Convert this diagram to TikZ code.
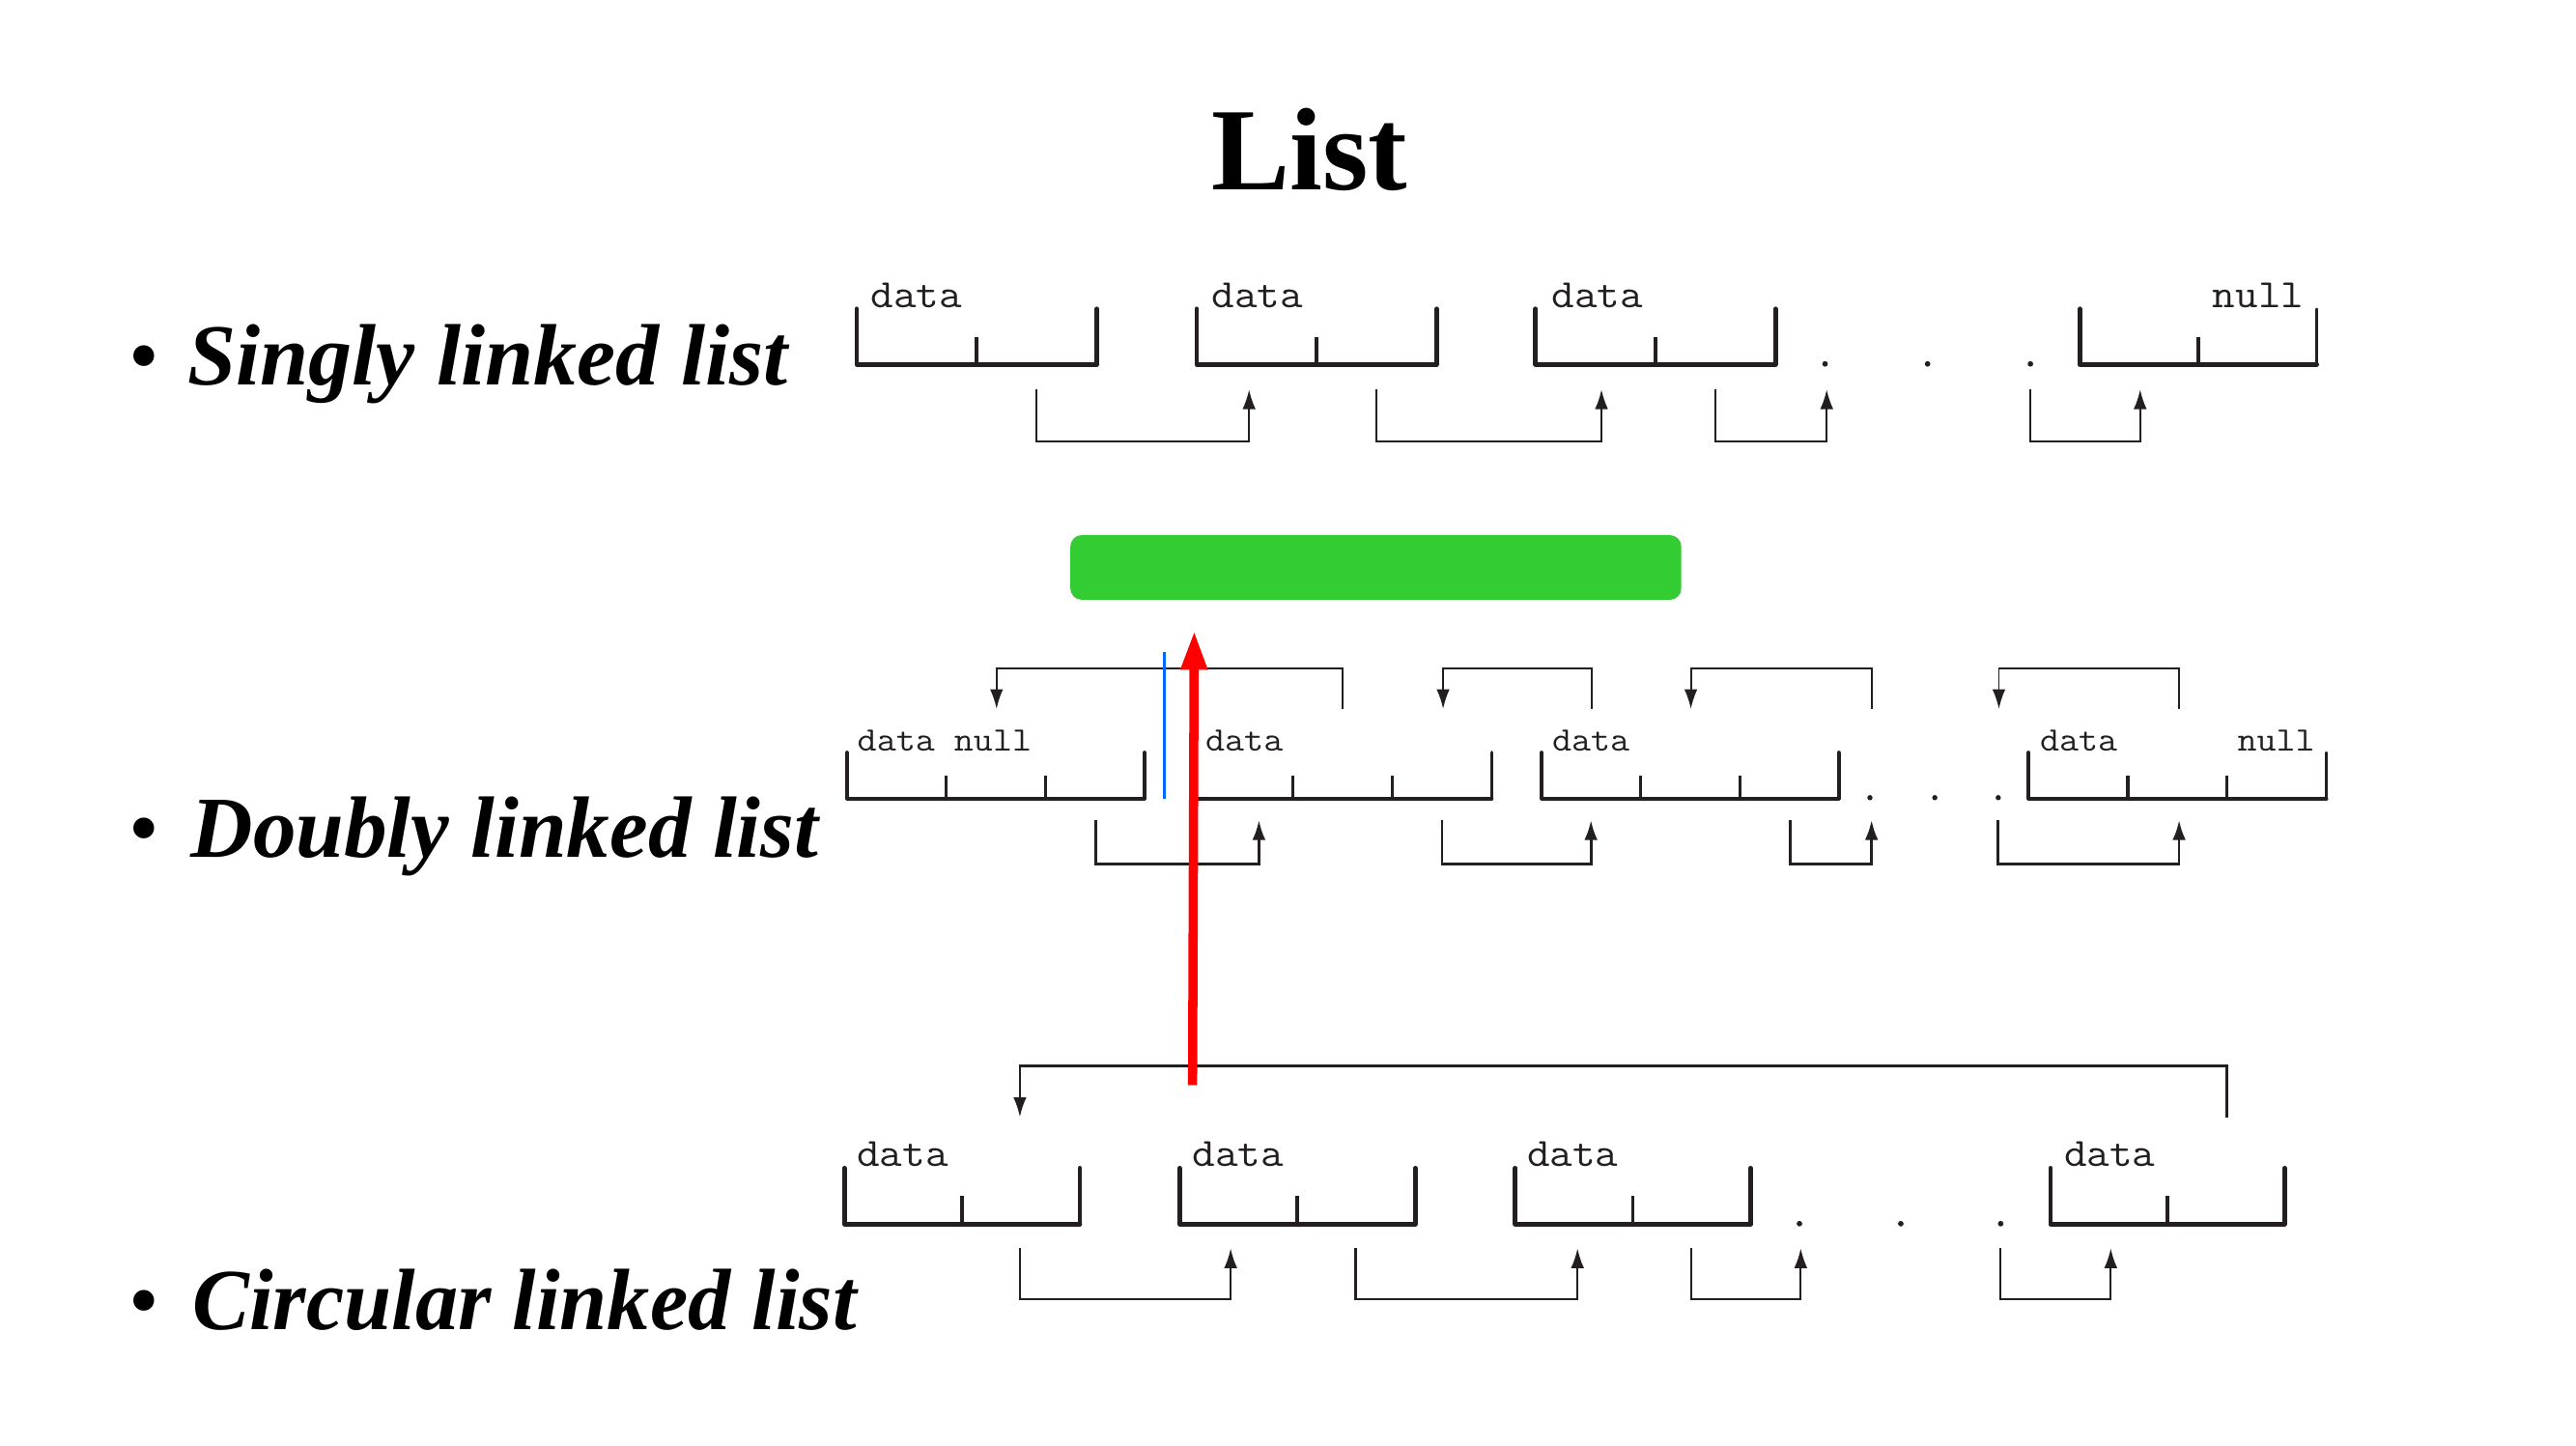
\documentclass[tikz,border=0pt]{standalone}
\usepackage{graphicx}
\usepackage{fontspec}
\setmainfont{Liberation Serif}
\usetikzlibrary{arrows.meta}
\definecolor{ink}{HTML}{231F20}
\definecolor{grn}{HTML}{33CC33}
\definecolor{blu}{HTML}{0066FF}
\definecolor{rd}{HTML}{FF0000}
% two-cell node: left, top, width, height, right-side style
\newcommand{\twocell}[5]{%
  \draw[boxline] ({#1},{#2}) -- ({#1},{#2+#4}) -- ({#1+#3},{#2+#4});
  \draw[boxline,#5] ({#1+#3},{#2+#4}) -- ({#1+#3},{#2});
  \draw[divline] ({#1+#3/2},{#2+#4/2}) -- ({#1+#3/2},{#2+#4});}
% three-cell node
\newcommand{\threecell}[5]{%
  \draw[boxline,line width=2.2pt] ({#1},{#2}) -- ({#1},{#2+#4}) -- ({#1+#3},{#2+#4});
  \draw[boxline,line width=2.2pt,#5] ({#1+#3},{#2+#4}) -- ({#1+#3},{#2});
  \draw[divline,line width=1.9pt] ({#1+#3/3},{#2+#4/2}) -- ({#1+#3/3},{#2+#4});
  \draw[divline,line width=1.9pt] ({#1+2*#3/3},{#2+#4/2}) -- ({#1+2*#3/3},{#2+#4});}
\newcommand{\mlbl}[1]{\scalebox{1.1}[1]{#1}}
\begin{document}
\begin{tikzpicture}[x=1pt,y=-1pt,
  boxline/.style={draw=ink,line width=2.8pt,line cap=round,line join=round},
  thinside/.style={line width=1.4pt},
  divline/.style={draw=ink,line width=2.2pt},
  conn/.style={draw=ink,line width=1.3pt,-{Latex[length=12pt,width=8pt]}},
  lbl/.style={inner sep=0pt,text=ink,font=\ttfamily\fontsize{24.5}{26}\selectfont},
  slbl/.style={inner sep=0pt,text=ink,font=\ttfamily\fontsize{20.8}{22}\selectfont},
  bul/.style={inner sep=0pt,font=\fontsize{53}{60}\selectfont},
  head/.style={inner sep=0pt,font=\bfseries\itshape\fontsize{53}{60}\selectfont},
  dotm/.style={fill=ink}]
\fill[white] (0,0) rectangle (1568,879.6);
\useasboundingbox (0,0) rectangle (1568,879.6);

% title
\node[inner sep=0pt,anchor=base,font=\bfseries\fontsize{71.5}{80}\selectfont] (title) at (797,115.8) {List};

% bullets
\node[bul,anchor=base] (b1) at (88,234) {\textbullet};
\node[head,anchor=base west] (h1) at (114,234) {Singly linked list};
\node[bul,anchor=base] (b2) at (88,522) {\textbullet};
\node[head,anchor=base west] (h2) at (116,522) {\scalebox{0.99}[1]{Doubly linked list}};
\node[bul,anchor=base] (b3) at (88,809) {\textbullet};
\node[head,anchor=base west] (h3) at (117,809) {\scalebox{0.98}[1]{Circular linked list}};

% ---------- singly linked list ----------
\twocell{521.5}{188}{146}{33.8}{}
\twocell{728.4}{188}{146}{33.8}{}
\twocell{934.7}{188}{146}{33.8}{}
\twocell{1265.9}{188}{144.3}{33.8}{thinside}
\node[lbl,anchor=base west] (s1) at (529.9,187) {\mlbl{data}};
\node[lbl,anchor=base west] (s2) at (737.4,187) {\mlbl{data}};
\node[lbl,anchor=base west] (s3) at (944.3,187) {\mlbl{data}};
\node[lbl,anchor=base east] (s4) at (1402.6,187) {\mlbl{null}};
\foreach \dx in {1110.9,1173.3,1235.9} \fill[dotm] (\dx,221.5) circle (1.7);
\coordinate (s1o) at (631,237);    \coordinate (s2i) at (760.3,237);
\coordinate (s2o) at (838,237);    \coordinate (s3i) at (974.8,237);
\coordinate (s3o) at (1044.1,237); \coordinate (sdi) at (1111.9,237);
\coordinate (sdo) at (1235.7,237); \coordinate (s4i) at (1302.7,237);
\draw[conn] (s1o) -- ++(0,31.5) -| (s2i);
\draw[conn] (s2o) -- ++(0,31.5) -| (s3i);
\draw[conn] (s3o) -- ++(0,31.5) -| (sdi);
\draw[conn] (sdo) -- ++(0,31.5) -| (s4i);

% ---------- green bar ----------
\fill[grn,rounded corners=7pt] (651.5,325.7) rectangle (1023.4,365.1);

% ---------- doubly linked list ----------
\threecell{515.5}{458}{181.1}{28}{}
\threecell{726.6}{458}{181.4}{28}{}
\threecell{938.5}{458}{180.7}{28}{}
\threecell{1234.8}{458}{181.3}{28}{thinside}
\node[slbl,anchor=base west] (d1) at (521.7,457) {\mlbl{data null}};
\node[slbl,anchor=base west] (d2) at (733.6,457) {\mlbl{data}};
\node[slbl,anchor=base west] (d3) at (944.6,457) {\mlbl{data}};
\node[slbl,anchor=base west] (d4) at (1241.5,457) {\mlbl{data}};
\node[slbl,anchor=base east] (d4n) at (1409.3,457) {\mlbl{null}};
\foreach \dx in {1138.2,1177.7,1216.3} \fill[dotm] (\dx,485.5) circle (1.6);
% back pointers (above)
\coordinate (p2o) at (817.3,431.5);  \coordinate (p1i) at (606.6,431.5);
\coordinate (p3o) at (968.8,431.5);  \coordinate (p2i) at (878.4,431.5);
\coordinate (pdo) at (1139.2,431.5); \coordinate (p3i) at (1029.2,431.5);
\coordinate (p4o) at (1326.4,431.5); \coordinate (pdi) at (1216.7,431.5);
\draw[conn,line width=1.1pt] (p2o) -- ++(0,-24.8) -| (p1i);
\draw[conn,line width=1.1pt] (p3o) -- ++(0,-24.8) -| (p2i);
\draw[conn,line width=1.1pt] (pdo) -- ++(0,-24.8) -| (p3i);
\draw[conn,line width=1.1pt] (p4o) -- ++(0,-24.8) -| (pdi);
% forward pointers (below)
\coordinate (n1o) at (666.9,499.2);  \coordinate (n2i) at (766.3,499.2);
\coordinate (n2o) at (877.7,499.2);  \coordinate (n3i) at (968.4,499.2);
\coordinate (n3o) at (1089.5,499.2); \coordinate (ndi) at (1139.2,499.2);
\coordinate (ndo) at (1216.3,499.2); \coordinate (n4i) at (1326.4,499.2);
\draw[conn,line width=1.6pt] (n1o) -- ++(0,26.6) -| (n2i);
\draw[conn,line width=1.6pt] (n2o) -- ++(0,26.6) -| (n3i);
\draw[conn,line width=1.6pt] (n3o) -- ++(0,26.6) -| (ndi);
\draw[conn,line width=1.6pt] (ndo) -- ++(0,26.6) -| (n4i);

% ---------- circular linked list ----------
\twocell{514}{711}{143.3}{34}{}
\twocell{718}{711}{143.5}{34}{}
\twocell{922.3}{711}{143.3}{34}{}
\twocell{1248.1}{711}{142.5}{34}{}
\node[lbl,anchor=base west] (c1) at (521.4,710) {\mlbl{data}};
\node[lbl,anchor=base west] (c2) at (725.7,710) {\mlbl{data}};
\node[lbl,anchor=base west] (c3) at (929.3,710) {\mlbl{data}};
\node[lbl,anchor=base west] (c4) at (1256.2,710) {\mlbl{data}};
\foreach \dx in {1095.3,1157,1217.8} \fill[dotm] (\dx,744.8) circle (1.7);
\coordinate (c1o) at (620.8,759.8);  \coordinate (c2i) at (749.1,759.8);
\coordinate (c2o) at (825.2,759.8);  \coordinate (c3i) at (960.2,759.8);
\coordinate (c3o) at (1029.5,759.8); \coordinate (cdi) at (1096.1,759.8);
\coordinate (cdo) at (1217.8,759.8); \coordinate (c4i) at (1284.8,759.8);
\draw[conn] (c1o) -- ++(0,31) -| (c2i);
\draw[conn] (c2o) -- ++(0,31) -| (c3i);
\draw[conn] (c3o) -- ++(0,31) -| (cdi);
\draw[conn] (cdo) -- ++(0,31) -| (c4i);
\coordinate (c4back) at (1355.6,680);
\coordinate (c1top) at (620.8,680);
\draw[conn,line width=1.5pt] (c4back) -- ++(0,-31.3) -| (c1top);

% ---------- blue marker and red arrow ----------
\coordinate (blt) at (708.6,396.9);
\coordinate (blb) at (708.6,486);
\draw[blu,line width=1.9pt] (blt) -- (blb);
\coordinate (rbot) at (725.9,660.4);
\coordinate (rtop) at (726.9,383.7);
\draw[rd,line width=5.6pt,-{Triangle[length=24pt,width=15pt]}] (rbot) -- (rtop);
\end{tikzpicture}
\end{document}
